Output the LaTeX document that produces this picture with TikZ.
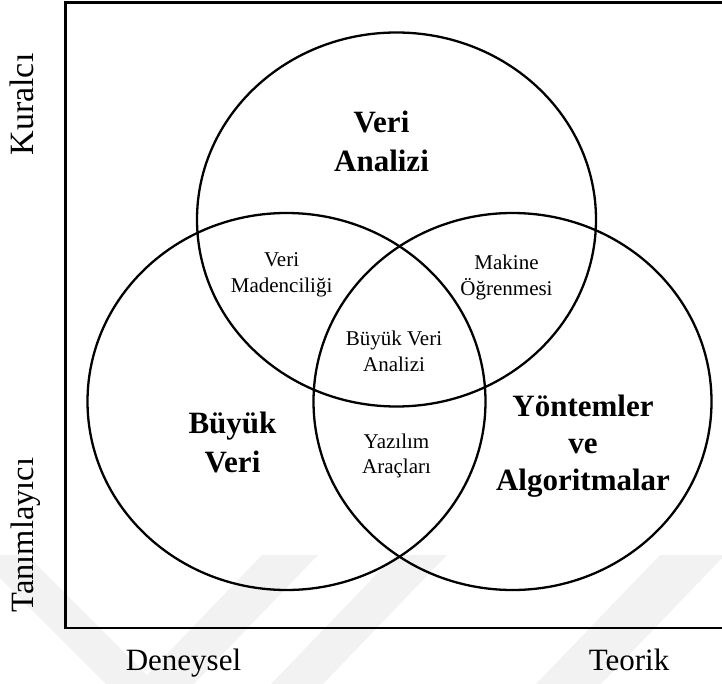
\documentclass[tikz,border=0pt]{standalone}
\usepackage{fontspec}
\setmainfont{Liberation Serif}
\begin{document}
\begin{tikzpicture}[x=1pt,y=-1pt,
  ring/.style={line width=2.3pt},
  framebox/.style={line width=2.7pt},
  wm/.style={fill=black!5},
  big/.style={font=\fontsize{31}{37}\selectfont\bfseries, inner sep=0pt, anchor=base},
  small/.style={font=\fontsize{21}{26}\selectfont, inner sep=0pt, anchor=base},
  axislabel/.style={font=\fontsize{31}{37}\selectfont, inner sep=0pt, anchor=base}]
\useasboundingbox (0,0) rectangle (722,684);
\begin{scope}
  \clip (0,0) rectangle (722,684);
  % faint background bands
  \fill[wm] (0,578) -- (106,684) -- (156,684) -- (27,555) -- (0,555) -- cycle;
  \fill[wm] (262,555) -- (318,555) -- (194,684) -- (138,684) -- cycle;
  \fill[wm] (395,555) -- (447,555) -- (323,684) -- (271,684) -- cycle;
  \fill[wm] (660,555) -- (725,555) -- (601,684) -- (536,684) -- cycle;
  % outer frame
  \draw[framebox] (65.3,2.5) rectangle (760,628);
\end{scope}

% circle centres
\coordinate (ctop) at (396.5,219.5);
\coordinate (cleft) at (286.5,401.5);
\coordinate (cright) at (512.5,401.5);

\draw[ring] (ctop) ellipse [x radius=199.5, y radius=187];
\draw[ring] (cleft) ellipse [x radius=199, y radius=188.5];
\draw[ring] (cright) ellipse [x radius=199, y radius=188.5];

% main areas
\node[big] (va1) at (381.5,133) {Veri};
\node[big] (va2) at (381.5,172) {Analizi};
\node[big] (bv1) at (232.5,433) {Büyük};
\node[big] (bv2) at (232.5,472) {Veri};
\node[big] (ya1) at (583,416.5) {Yöntemler};
\node[big] (ya2) at (583,453.5) {ve};
\node[big] (ya3) at (583,490.7) {Algoritmalar};

% overlaps
\node[small] (vm1) at (281.6,267) {Veri};
\node[small] (vm2) at (281.6,293) {Madenciliği};
\node[small] (mo1) at (506.5,270) {Makine};
\node[small] (mo2) at (506.5,296) {Öğrenmesi};
\node[small] (bva1) at (394,345.7) {Büyük Veri};
\node[small] (bva2) at (394,371.7) {Analizi};
\node[small] (yz1) at (396.5,448) {Yazılım};
\node[small] (yz2) at (396.5,473.5) {Araçları};

% axes
\node[axislabel] (dx) at (183.5,670) {Deneysel};
\node[axislabel] (tx) at (629,670) {Teorik};
\node[axislabel, rotate=90, font=\fontsize{34}{40}\selectfont] (ky) at (33.5,104.5) {Kuralcı};
\node[axislabel, rotate=90, font=\fontsize{32.5}{38}\selectfont] (ty) at (33.5,535) {Tanımlayıcı};
\end{tikzpicture}
\end{document}
